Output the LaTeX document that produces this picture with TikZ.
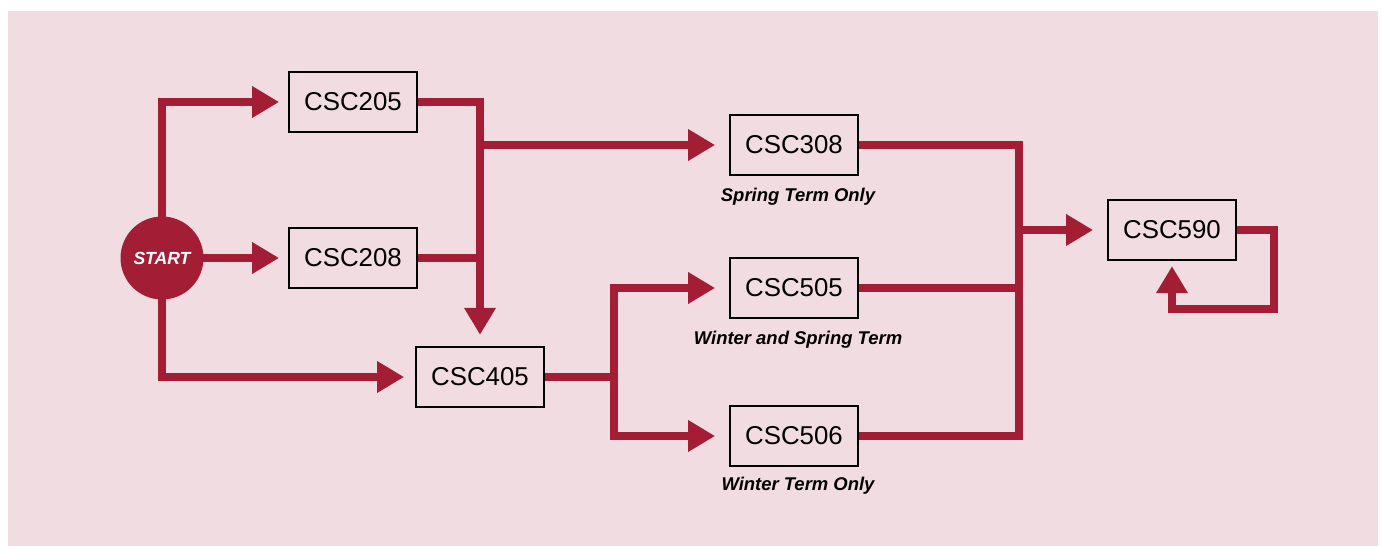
\documentclass[tikz,border=0pt]{standalone}
\usepackage{xcolor}
\usepackage{fontspec}
\setmainfont{Liberation Sans}
\usepackage{tikz}
\usetikzlibrary{arrows.meta}

\definecolor{csred}{RGB}{163,30,52}
\definecolor{bgpink}{RGB}{240,220,225}

\tikzset{
    course/.style={draw=black, line width=0.046cm, minimum width=2.55cm, minimum height=1.2cm,
        font=\fontsize{14.7}{17}\selectfont},
    note/.style={font=\fontsize{10.5}{12}\selectfont\bfseries\itshape},
    link/.style={draw=csred, line width=0.16cm},
    flow/.style={link, -{Triangle[length=0.54cm, width=0.6cm]}}
}

\begin{document}
\begin{tikzpicture}
    \useasboundingbox (0, 0) rectangle (27.64, -10.92);
    \fill[bgpink] (0.16, -0.22) rectangle (27.56, -10.92);

    \node[circle, fill=csred, minimum size=1.66cm, text=white,
        font=\fontsize{10}{12}\selectfont\bfseries\itshape] at (3.24, -5.16) (start) {START};
    \node[course] at (7.06, -2.04) (c205) {CSC205};
    \node[course] at (7.06, -5.16) (c208) {CSC208};
    \node[course] at (9.6, -7.54) (c405) {CSC405};
    \node[course] at (15.88, -2.9) (c308) {CSC308};
    \node[course] at (15.88, -5.76) (c505) {CSC505};
    \node[course] at (15.88, -8.72) (c506) {CSC506};
    \node[course] at (23.44, -4.6) (c590) {CSC590};

    \node[note] at (15.96, -3.94) (n308) {Spring Term Only};
    \node[note] at (15.96, -6.8) (n505) {Winter and Spring Term};
    \node[note] at (15.96, -9.72) (n506) {Winter Term Only};

    \coordinate (split) at (12.28, -7.54);
    \coordinate (merge) at (20.38, -4.6);

    % from start
    \draw[flow, shorten >=0.18cm] ([yshift=-0.2cm]start.north) |- (c205.west);
    \draw[flow, shorten >=0.18cm] ([xshift=-0.2cm]start.east) -- (c208.west);
    \draw[flow, shorten >=0.22cm] ([yshift=0.2cm]start.south) |- (c405.west);

    % into CSC405 and CSC308
    \draw[flow, shorten >=0.22cm] (c205.east) -| (c405.north);
    \draw[link] (c208.east) -- (c208.east -| c405.north);
    \draw[flow, shorten >=0.28cm] (c308.west -| c405.north) -- (c308.west);

    % CSC405 splits
    \draw[flow, shorten >=0.28cm] (c405.east) -- (split) |- (c505.west);
    \draw[flow, shorten >=0.28cm] (split) |- (c506.west);

    % into CSC590
    \draw[link] (c308.east) -| (c506.east -| merge) -- (c506.east);
    \draw[link] (c505.east) -- (c505.east -| merge);
    \draw[flow, shorten >=0.28cm] (merge) -- (c590.west);
    \draw[flow, shorten >=0.1cm] (c590.east) -- ++(0.75, 0) |- ([yshift=-0.96cm]c590.south) -- (c590.south);
\end{tikzpicture}
\end{document}
